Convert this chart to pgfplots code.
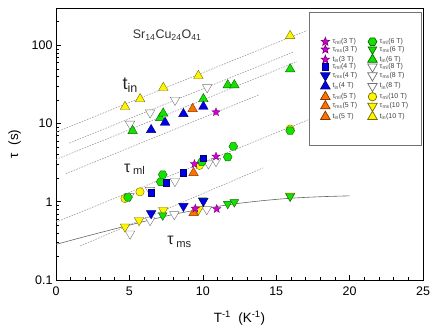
\documentclass[border=0pt]{standalone}
\usepackage{fontspec}
\setmainfont{Liberation Sans}
\usepackage{pgfplots}
\pgfplotsset{compat=1.18}

\definecolor{mag}{RGB}{214,0,214}
\definecolor{blu}{RGB}{0,0,230}
\definecolor{org}{RGB}{255,112,0}
\definecolor{grn}{RGB}{20,225,0}
\definecolor{yel}{RGB}{255,245,0}
\definecolor{dashc}{RGB}{150,150,150}

% filled five-pointed star
\pgfdeclareplotmark{fstar}{%
  \pgfpathmoveto{\pgfpointpolar{90}{\pgfplotmarksize}}%
  \pgfpathlineto{\pgfpointpolar{126}{0.42\pgfplotmarksize}}%
  \pgfpathlineto{\pgfpointpolar{162}{\pgfplotmarksize}}%
  \pgfpathlineto{\pgfpointpolar{198}{0.42\pgfplotmarksize}}%
  \pgfpathlineto{\pgfpointpolar{234}{\pgfplotmarksize}}%
  \pgfpathlineto{\pgfpointpolar{270}{0.42\pgfplotmarksize}}%
  \pgfpathlineto{\pgfpointpolar{306}{\pgfplotmarksize}}%
  \pgfpathlineto{\pgfpointpolar{342}{0.42\pgfplotmarksize}}%
  \pgfpathlineto{\pgfpointpolar{18}{\pgfplotmarksize}}%
  \pgfpathlineto{\pgfpointpolar{54}{0.42\pgfplotmarksize}}%
  \pgfpathclose\pgfusepathqfillstroke}
% hexagon
\pgfdeclareplotmark{hexa}{%
  \pgfpathmoveto{\pgfpointpolar{0}{\pgfplotmarksize}}%
  \pgfpathlineto{\pgfpointpolar{60}{\pgfplotmarksize}}%
  \pgfpathlineto{\pgfpointpolar{120}{\pgfplotmarksize}}%
  \pgfpathlineto{\pgfpointpolar{180}{\pgfplotmarksize}}%
  \pgfpathlineto{\pgfpointpolar{240}{\pgfplotmarksize}}%
  \pgfpathlineto{\pgfpointpolar{300}{\pgfplotmarksize}}%
  \pgfpathclose\pgfusepathqfillstroke}

\pgfplotsset{
  pt/.style={only marks, mark options={solid, line width=0.4pt}},
  magstar/.style={pt, mark=fstar, mark size=4.3bp, mark options={fill=mag, draw=mag!60!black}},
  blusq/.style={pt, mark=square*, mark size=3.2bp, mark options={fill=blu, draw=blu!50!black}},
  bludn/.style={pt, mark=triangle*, mark size=5.5bp, mark options={fill=blu, draw=blu!50!black, rotate=180}},
  bluup/.style={pt, mark=triangle*, mark size=5.5bp, mark options={fill=blu, draw=blu!50!black}},
  orgup/.style={pt, mark=triangle*, mark size=5.5bp, mark options={fill=org, draw=org!50!black}},
  grnhex/.style={pt, mark=hexa, mark size=4.4bp, mark options={fill=grn, draw=grn!45!black}},
  grndn/.style={pt, mark=triangle*, mark size=5.0bp, mark options={fill=grn, draw=grn!45!black, rotate=180}},
  grnup/.style={pt, mark=triangle*, mark size=5.5bp, mark options={fill=grn, draw=grn!45!black}},
  whtdn/.style={pt, mark=triangle*, mark size=5.5bp, mark options={fill=white, draw=black!55, rotate=180}},
  yelci/.style={pt, mark=*, mark size=4.2bp, mark options={fill=yel, draw=yel!45!black}},
  yeldn/.style={pt, mark=triangle*, mark size=5.5bp, mark options={fill=yel, draw=yel!45!black, rotate=180}},
  yelup/.style={pt, mark=triangle*, mark size=5.5bp, mark options={fill=yel, draw=yel!45!black}},
  guide/.style={forget plot, no marks, dashc, line width=0.55pt, dash pattern=on 1.6pt off 1.2pt},
}

\begin{document}
\begin{tikzpicture}
\begin{axis}[
  scale only axis,
  width=367bp, height=272bp,
  xmin=0, xmax=25, ymin=0.1, ymax=300,
  ymode=log,
  xtick={0,5,10,15,20,25}, xticklabels={0,5,10,15,20,25},
  minor x tick num=4,
  ytick={0.1,1,10,100}, yticklabels={0.1,1,10,100},
  minor ytick={0.2,0.3,0.4,0.5,0.6,0.7,0.8,0.9,2,3,4,5,6,7,8,9,20,30,40,50,60,70,80,90,200,300},
  tick align=inside, xtick pos=bottom, ytick pos=left,
  major tick length=5bp, minor tick length=3bp,
  axis line style={line width=0.8pt},
  tick style={line width=0.6pt, black},
  tick label style={font=\fontsize{12.5}{14}\selectfont},
  xticklabel style={yshift=-3bp},
  xlabel={T\textsuperscript{-1}\ \ (K\textsuperscript{-1})},
  ylabel={τ\ \ (s)},
  xlabel style={yshift=-9bp},
  ylabel style={yshift=4bp},
  label style={font=\fontsize{13.5}{15}\selectfont},
  legend columns=2,
  legend cell align=left,
  legend image code/.code={%
    \draw[mark repeat=2,mark phase=2,#1] plot coordinates {(0cm,0cm) (0.2cm,0cm) (0.4cm,0cm)};},
  legend style={at={(0.69,0.985)}, anchor=north west, draw=black!55,
    line width=0.7pt, fill=white, text=black!75,
    font=\fontsize{7}{8}\selectfont, inner xsep=11bp, inner ysep=25bp,
    row sep=-0.4bp, nodes={inner ysep=0.5bp, inner xsep=2.5bp},
    /tikz/every even column/.append style={column sep=8bp}},
]
% guide lines
\addplot[guide] coordinates {(0,7.76) (17.1,155)};
\addplot[guide] coordinates {(0.9,5.62) (16.2,82.4)};
\addplot[guide] coordinates {(0,3.47) (16.4,61.7)};
\addplot[guide] coordinates {(0.68,2.29) (13.8,23.2)};
\addplot[guide] coordinates {(0,0.55) (17.2,11.2)};
\addplot[guide] coordinates {(1.64,0.272) (14.1,2.71)};
\addplot[forget plot, no marks, black!60, line width=0.6pt, smooth] coordinates {
  (0,0.285) (2,0.36) (4,0.45) (6,0.56) (8,0.69) (10,0.81) (12,0.93) (14,1.03) (16,1.11) (18,1.16) (20,1.19)};

% legend (column-wise order)
\addlegendimage{magstar}\addlegendentry{τ\textsubscript{ml}(3 T)}
\addlegendimage{grnhex}\addlegendentry{τ\textsubscript{ml}(6 T)}
\addlegendimage{magstar}\addlegendentry{τ\textsubscript{ms}(3 T)}
\addlegendimage{grndn}\addlegendentry{τ\textsubscript{ms}(6 T)}
\addlegendimage{magstar}\addlegendentry{t\textsubscript{in}(3 T)}
\addlegendimage{grnup}\addlegendentry{t\textsubscript{in}(6 T)}
\addlegendimage{blusq}\addlegendentry{τ\textsubscript{ml}(4 T)}
\addlegendimage{whtdn}\addlegendentry{τ\textsubscript{ml}(8 T)}
\addlegendimage{bludn}\addlegendentry{τ\textsubscript{ms}(4 T)}
\addlegendimage{whtdn}\addlegendentry{τ\textsubscript{ms}(8 T)}
\addlegendimage{bluup}\addlegendentry{t\textsubscript{in}(4 T)}
\addlegendimage{whtdn}\addlegendentry{t\textsubscript{in}(8 T)}
\addlegendimage{orgup}\addlegendentry{τ\textsubscript{ml}(5 T)}
\addlegendimage{yelci}\addlegendentry{τ\textsubscript{ml}(10 T)}
\addlegendimage{orgup}\addlegendentry{τ\textsubscript{ms}(5 T)}
\addlegendimage{yeldn}\addlegendentry{τ\textsubscript{ms}(10 T)}
\addlegendimage{orgup}\addlegendentry{t\textsubscript{in}(5 T)}
\addlegendimage{yelup}\addlegendentry{t\textsubscript{in}(10 T)}

% 8 T
\addplot[whtdn, forget plot] coordinates {(5.0,1.18) (6.4,1.41) (8.1,1.83) (10.38,3.07) (10.9,3.29)};
\addplot[whtdn, forget plot] coordinates {(5.04,0.39) (6.41,0.58) (8.06,0.69) (10.27,0.80)};
\addplot[whtdn, forget plot] coordinates {(5.04,9.9) (6.41,13.8) (8.11,20) (10.3,29)};
% 10 T
\addplot[yelci, forget plot] coordinates {(4.70,1.10) (5.72,1.34) (9.77,2.92) (15.95,8.5)};
\addplot[yeldn, forget plot] coordinates {(4.70,0.48) (5.66,0.58) (7.31,0.78) (9.71,0.80) (15.95,1.19)};
\addplot[yelup, forget plot] coordinates {(4.70,16.4) (5.73,20.6) (7.31,28.7) (9.7,40.8) (15.95,132)};
% 6 T
\addplot[grnhex, forget plot] coordinates {(4.9,1.14) (7.13,1.80) (7.27,2.22) (9.93,3.23) (11.7,3.73) (12.08,5.1) (15.95,8.1)};
\addplot[grndn, forget plot] coordinates {(7.27,0.67) (10.0,1.04) (11.7,0.94) (12.15,0.99) (15.95,1.17)};
\addplot[grnup, forget plot] coordinates {(5.22,8.07) (7.1,11.8) (7.3,13.5) (10.04,20.6) (11.7,31) (12.15,31) (15.95,49.6)};
% 5 T
\addplot[orgup, forget plot] coordinates {(9.37,2.34)};
\addplot[orgup, forget plot] coordinates {(9.37,0.72)};
\addplot[orgup, forget plot] coordinates {(9.31,15.4)};
% 4 T
\addplot[blusq, forget plot] coordinates {(6.47,1.30) (7.5,1.75) (8.68,2.34) (10.04,3.63)};
\addplot[bludn, forget plot] coordinates {(6.48,0.71) (8.68,0.88) (10.04,1.02)};
\addplot[bluup, forget plot] coordinates {(6.48,8.3) (7.43,10.3) (8.68,13.3) (10.04,16.5)};
% 3 T
\addplot[magstar, forget plot] coordinates {(9.43,3.04) (10.9,3.8)};
\addplot[magstar, forget plot] coordinates {(9.49,0.82) (10.95,0.81)};
\addplot[magstar, forget plot] coordinates {(10.9,14)};

% annotations
\node[anchor=west, font=\fontsize{12.5}{14}\selectfont, text=black!80] at (axis cs:5.0,134)
  {Sr\textsubscript{14}Cu\textsubscript{24}O\textsubscript{41}};
\node[anchor=west, font=\fontsize{18}{20}\selectfont, text=black!85] at (axis cs:4.3,31)
  {t\textsubscript{in}};
\node[anchor=west, font=\fontsize{16}{18}\selectfont, text=black!85] at (axis cs:4.4,2.6)
  {τ\,\textsubscript{ml}};
\node[anchor=west, font=\fontsize{16}{18}\selectfont, text=black!85] at (axis cs:7.35,0.31)
  {τ\,\textsubscript{ms}};
\end{axis}
\path (current axis.south west) ++(-56bp,-47bp) (current axis.north east) ++(13bp,8bp);
\end{tikzpicture}
\end{document}
